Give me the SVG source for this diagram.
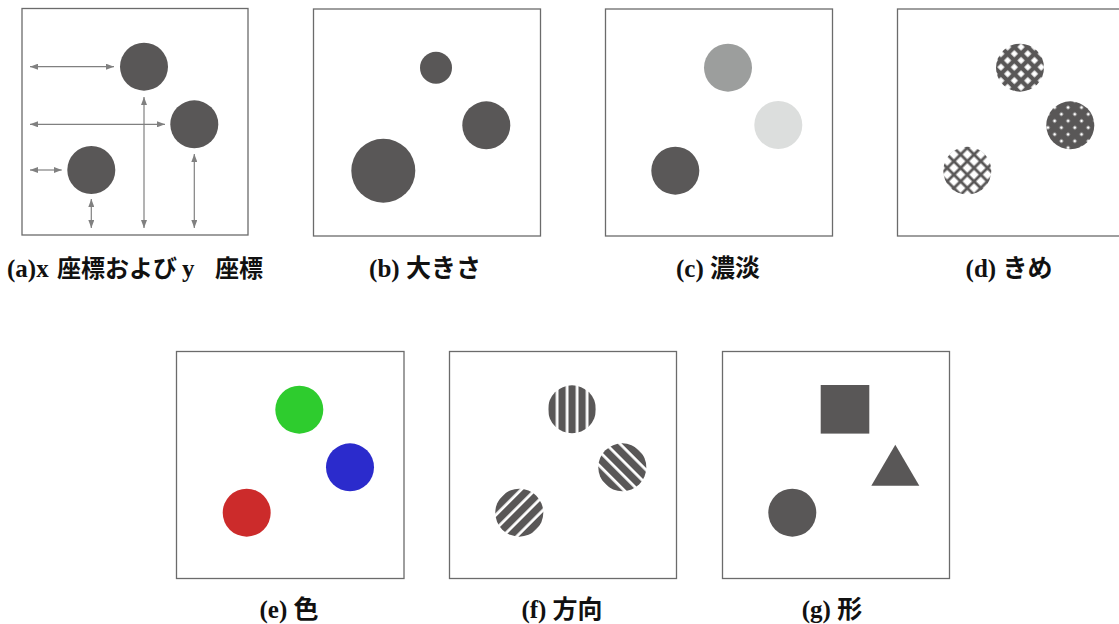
<svg xmlns="http://www.w3.org/2000/svg" width="1119" height="624" viewBox="0 0 1119 624">
  <style>
    .frame { fill: #ffffff; stroke: #6b6b6b; stroke-width: 1.3; }
    .dark { fill: #595757; }
    .dim { stroke: #808080; stroke-width: 1.2; fill: none; marker-start: url(#tip); marker-end: url(#tip); }
    .cap { font-size: 25px; font-weight: bold; fill: #111111; text-anchor: middle; }
    .cap.left { text-anchor: start; }
    .lat { font-family: "Liberation Serif", "Times New Roman", serif; }
    .cjk { font-family: "Noto Sans CJK JP", "Noto Sans CJK SC", sans-serif; }
    .tight { font-size: 24px; }
  </style>
  <defs>
    <marker id="tip" viewBox="0 0 8 6" markerWidth="8" markerHeight="6" refX="8" refY="3" orient="auto-start-reverse" markerUnits="userSpaceOnUse">
      <path d="M0,0 L8,3 L0,6 z" fill="#808080"/>
    </marker>
    <!-- crosshatch textures: same lattice, different line weights -->
    <pattern id="texThin" width="9.5" height="9.5" patternUnits="userSpaceOnUse" patternTransform="rotate(45)">
      <rect width="9.5" height="9.5" fill="#595757"/>
      <rect x="1.4" y="1.4" width="6.7" height="6.7" fill="#ffffff"/>
    </pattern>
    <pattern id="texMid" width="9.5" height="9.5" patternUnits="userSpaceOnUse" patternTransform="rotate(45)">
      <rect width="9.5" height="9.5" fill="#595757"/>
      <rect x="2.2" y="2.2" width="5.1" height="5.1" fill="#ffffff"/>
    </pattern>
    <pattern id="texThick" width="9.5" height="9.5" patternUnits="userSpaceOnUse" patternTransform="rotate(45)">
      <rect width="9.5" height="9.5" fill="#595757"/>
      <rect x="3.4" y="3.4" width="2.7" height="2.7" fill="#ffffff"/>
    </pattern>
    <!-- stripe textures -->
    <pattern id="stripeV" x="568.5" width="10" height="10" patternUnits="userSpaceOnUse">
      <rect width="10" height="10" fill="#ffffff"/>
      <rect width="7.2" height="10" fill="#595757"/>
    </pattern>
    <pattern id="stripeBack" x="-3.6" width="10" height="10" patternUnits="userSpaceOnUse" patternTransform="translate(622.3,467.3) rotate(-45)">
      <rect width="10" height="10" fill="#ffffff"/>
      <rect width="7.2" height="10" fill="#595757"/>
    </pattern>
    <pattern id="stripeFwd" x="-3.6" width="10" height="10" patternUnits="userSpaceOnUse" patternTransform="translate(519.3,512.7) rotate(45)">
      <rect width="10" height="10" fill="#ffffff"/>
      <rect width="7.2" height="10" fill="#595757"/>
    </pattern>
  </defs>

  <rect width="1119" height="624" fill="#ffffff"/>

  <!-- (a) position -->
  <g id="panel-a">
    <rect class="frame" x="22" y="8.5" width="226" height="226.5"/>
    <circle class="dark" cx="144" cy="66.7" r="24"/>
    <circle class="dark" cx="194.3" cy="124.3" r="24"/>
    <circle class="dark" cx="91.3" cy="170" r="24"/>
    <text class="cap left" x="7" y="277"><tspan class="lat" x="7">(a)x</tspan><tspan class="cjk tight" x="57">座標および</tspan><tspan class="lat" x="182">y</tspan><tspan class="cjk tight" x="215">座標</tspan></text>
  </g>
  <g id="connectors">
    <line class="dim" x1="30" y1="66.7" x2="114" y2="66.7"/>
    <line class="dim" x1="30" y1="124.3" x2="165" y2="124.3"/>
    <line class="dim" x1="30" y1="170" x2="61.7" y2="170"/>
    <line class="dim" x1="91.3" y1="199" x2="91.3" y2="228"/>
    <line class="dim" x1="144" y1="97" x2="144" y2="228"/>
    <line class="dim" x1="194.3" y1="154" x2="194.3" y2="228"/>
  </g>

  <!-- (b) size -->
  <g id="panel-b">
    <rect class="frame" x="313.5" y="9" width="227" height="227"/>
    <circle class="dark" cx="436" cy="67.7" r="16"/>
    <circle class="dark" cx="486.3" cy="125.3" r="24"/>
    <circle class="dark" cx="383.3" cy="170.7" r="32"/>
    <text class="cap" x="425" y="277"><tspan class="lat">(b) </tspan><tspan class="cjk">大きさ</tspan></text>
  </g>

  <!-- (c) value -->
  <g id="panel-c">
    <rect class="frame" x="605.5" y="9" width="227" height="227"/>
    <circle cx="728" cy="67.7" r="24" fill="#9c9e9d"/>
    <circle cx="778.3" cy="125" r="24" fill="#dcdedd"/>
    <circle cx="675.3" cy="170.7" r="24" fill="#5a5858"/>
    <text class="cap" x="718" y="277"><tspan class="lat">(c) </tspan><tspan class="cjk">濃淡</tspan></text>
  </g>

  <!-- (d) texture -->
  <g id="panel-d">
    <rect class="frame" x="897.5" y="9" width="227" height="227"/>
    <circle cx="1020" cy="67.7" r="24" fill="url(#texMid)"/>
    <circle cx="1070.3" cy="125.3" r="24" fill="url(#texThick)"/>
    <circle cx="967.3" cy="170.7" r="24" fill="url(#texThin)"/>
    <text class="cap" x="1009" y="277"><tspan class="lat">(d) </tspan><tspan class="cjk">きめ</tspan></text>
  </g>

  <!-- (e) hue -->
  <g id="panel-e">
    <rect class="frame" x="176.5" y="351.5" width="227.5" height="227"/>
    <circle cx="299.3" cy="409.7" r="24" fill="#2ecc2e"/>
    <circle cx="350" cy="467.3" r="24" fill="#2b2bcc"/>
    <circle cx="246.7" cy="512.7" r="24" fill="#cc2b2b"/>
    <text class="cap" x="289" y="618"><tspan class="lat">(e) </tspan><tspan class="cjk">色</tspan></text>
  </g>

  <!-- (f) orientation -->
  <g id="panel-f">
    <rect class="frame" x="449.5" y="351.5" width="227" height="227"/>
    <circle cx="572" cy="409.3" r="24" fill="url(#stripeV)"/>
    <circle cx="622.3" cy="467.3" r="24" fill="url(#stripeBack)"/>
    <circle cx="519.3" cy="512.7" r="24" fill="url(#stripeFwd)"/>
    <text class="cap" x="562" y="618"><tspan class="lat">(f) </tspan><tspan class="cjk">方向</tspan></text>
  </g>

  <!-- (g) shape -->
  <g id="panel-g">
    <rect class="frame" x="722.5" y="351.5" width="227" height="227"/>
    <rect class="dark" x="820.7" y="385" width="48.6" height="48.6"/>
    <polygon class="dark" points="895.3,444.7 919.3,485.7 871.3,485.7"/>
    <circle class="dark" cx="792.3" cy="512.7" r="24"/>
    <text class="cap" x="832" y="618"><tspan class="lat">(g) </tspan><tspan class="cjk">形</tspan></text>
  </g>
</svg>
